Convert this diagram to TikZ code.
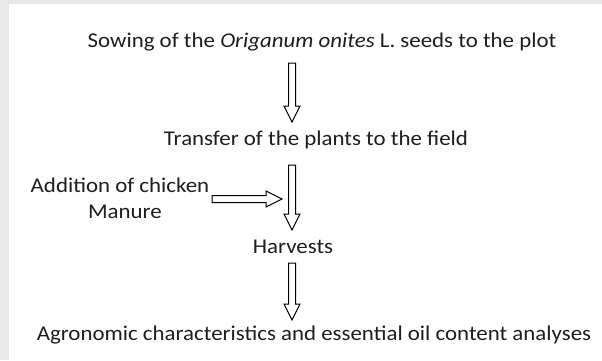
\documentclass[tikz,border=0pt]{standalone}
\usepackage{fontspec}
\setmainfont{Carlito}
\definecolor{bggray}{HTML}{E8E8E8}
\definecolor{txtcol}{HTML}{1E1E1E}
\newcommand{\widetxt}[1]{\scalebox{1.09}[1]{#1}}
\begin{document}
\begin{tikzpicture}[x=1pt,y=1pt,
  txt/.style={font=\fontsize{21}{24}\selectfont, inner sep=0pt, anchor=center, text=txtcol},
  blk/.style={draw=black, line width=1pt, fill=white, line join=miter},
  pics/blockarrow/.style={code={
    \draw[blk] (0,3.5) -- (#1-16,3.5) -- (#1-16,8) -- (#1,0) -- (#1-16,-8) -- (#1-16,-3.5) -- (0,-3.5) -- cycle;}}]
\fill[bggray] (0,0) rectangle (602,-360);
\fill[white] (9,-4) rectangle (602,-360);
\useasboundingbox (0,0) rectangle (602,-360);
% texts
\node[txt] (sow) at (322,-42) {\widetxt{Sowing of the \textit{Origanum onites} L. seeds to the plot}};
\node[txt] (transfer) at (316,-140) {\widetxt{Transfer of the plants to the field}};
\node[txt] (addition) at (120,-185) {\widetxt{Addition of chicken}};
\node[txt] (manure) at (125,-212) {\widetxt{Manure}};
\node[txt] (harvest) at (293,-247) {\widetxt{Harvests}};
\node[txt] (agro) at (314,-335) {\widetxt{Agronomic characteristics and essential oil content analyses}};
% arrow anchors
\coordinate (a1) at (292,-63);
\coordinate (a2) at (292,-165);
\coordinate (a3) at (292,-263);
\coordinate (a4) at (212,-199);
% block arrows
\pic[rotate=-90] at (a1) {blockarrow=59};
\pic[rotate=-90] at (a2) {blockarrow=65};
\pic[rotate=-90] at (a3) {blockarrow=57};
\pic at (a4) {blockarrow=70};
\end{tikzpicture}
\end{document}
